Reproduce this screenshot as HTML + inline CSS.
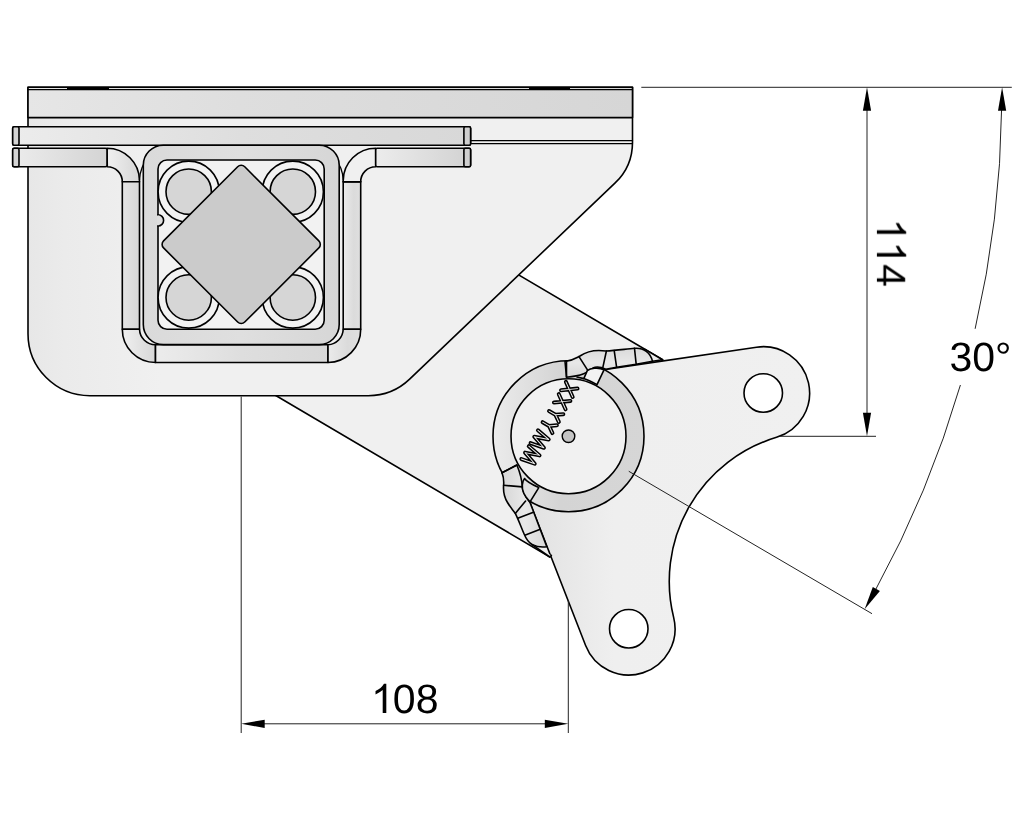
<!DOCTYPE html>
<html><head><meta charset="utf-8"><title>Drawing</title>
<style>html,body{margin:0;padding:0;background:#fff;}svg{display:block}text{-webkit-font-smoothing:antialiased;text-rendering:geometricPrecision}</style></head>
<body><svg width="1024" height="820" viewBox="0 0 1024 820" font-family="Liberation Sans, sans-serif">
<rect width="1024" height="820" fill="#fff"/>
<defs>
<linearGradient id="gBand" x1="0" x2="1" y1="0" y2="0"><stop offset="0" stop-color="#e6e6e6"/><stop offset=".35" stop-color="#dedede"/><stop offset="1" stop-color="#d6d6d6"/></linearGradient>
<linearGradient id="gPlate" x1="0" x2="1" y1="0" y2="0"><stop offset="0" stop-color="#e7e7e7"/><stop offset=".06" stop-color="#ebebeb"/><stop offset=".22" stop-color="#f0f0f0"/><stop offset="1" stop-color="#f0f0f0"/></linearGradient>
<linearGradient id="gBar" x1="0" x2="1" y1="0" y2="0"><stop offset="0" stop-color="#ececec"/><stop offset=".5" stop-color="#dedede"/><stop offset="1" stop-color="#d8d8d8"/></linearGradient>
<linearGradient id="gBarL" x1="0" x2="1" y1="0" y2="0"><stop offset="0" stop-color="#ececec"/><stop offset="1" stop-color="#d4d4d4"/></linearGradient>
<linearGradient id="gBarR" x1="0" x2="1" y1="0" y2="0"><stop offset="0" stop-color="#ececec"/><stop offset="1" stop-color="#d2d2d2"/></linearGradient>
<linearGradient id="gLeg" x1="0" x2="1" y1="0" y2="0"><stop offset="0" stop-color="#f0f0f0"/><stop offset="1" stop-color="#d6d6d6"/></linearGradient>
<linearGradient id="gLegR" x1="0" x2="1" y1="0" y2="0"><stop offset="0" stop-color="#ebebeb"/><stop offset=".6" stop-color="#dbdbdb"/><stop offset="1" stop-color="#dfdfdf"/></linearGradient>
<linearGradient id="gTube" x1="0" x2="1" y1="0" y2="0"><stop offset="0" stop-color="#dadada"/><stop offset=".5" stop-color="#dfdfdf"/><stop offset="1" stop-color="#d6d6d6"/></linearGradient>
<linearGradient id="gRing" x1="0" x2="1" y1="0" y2="0"><stop offset="0" stop-color="#ececec"/><stop offset=".45" stop-color="#d4d4d4"/><stop offset="1" stop-color="#d6d6d6"/></linearGradient>
<linearGradient id="gBrk" x1="0" x2="1" y1="0" y2="0"><stop offset="0" stop-color="#e2e2e2"/><stop offset=".3" stop-color="#efefef"/><stop offset="1" stop-color="#f0f0f0"/></linearGradient>
<linearGradient id="gWeld" x1="0" x2="1" y1="0" y2="0"><stop offset="0" stop-color="#d6d6d6"/><stop offset=".5" stop-color="#e8e8e8"/><stop offset="1" stop-color="#d8d8d8"/></linearGradient>
<linearGradient id="gWeld2" x1="0" x2="0" y1="0" y2="1"><stop offset="0" stop-color="#dadada"/><stop offset=".5" stop-color="#e8e8e8"/><stop offset="1" stop-color="#d8d8d8"/></linearGradient>
</defs>
<g fill="none" stroke="#000" stroke-width="1.6" stroke-linejoin="round" stroke-linecap="round">
<path d="M438.68 227.74 L662.7 359.7 L549.9 557 L265.56 389.51 Z" fill="#f0f0f0"/>
<path d="M28 87.3 L632.5 87.3 L632.5 142.39 A56 56 0 0 1 615.17 182.9 L409.64 379.1 A60 60 0 0 1 368.21 395.7 L90 395.7 A62 62 0 0 1 28 333.7 Z" fill="url(#gPlate)"/>
<rect x="28.0" y="87.3" width="604.5" height="30.299999999999997" fill="url(#gBand)"/>
<path d="M28.0 89.6 H632.5" stroke-width="1.2"/>
<path d="M67 88.4 H109 M529 88.4 H570" stroke-width="3" stroke-linecap="butt"/>
<path d="M470.5 140.7 H632.5 M470.5 143.6 H632.5" stroke-width="1.3"/>
<path d="M107 148.2 A32.5 32.5 0 0 1 139.5 180.7 L139.5 329.3 L122.3 329.3 L122.3 181.7 A15 15 0 0 0 107.3 166.7 Z" fill="url(#gLeg)"/>
<path d="M122.3 181.7 H139.5"/>
<path d="M122.3 329.3 H139.5 A16 16 0 0 0 155.5 344.8 L155.5 362.5 A33.2 33.2 0 0 1 122.3 329.3 Z" fill="url(#gLeg)"/>
<rect x="155.5" y="344.8" width="172.5" height="17.7" fill="url(#gBar)"/>
<path d="M343.2 181.7 L343.2 329.3 L360.7 329.3 L360.7 181.7 Z" fill="url(#gLegR)"/>
<path d="M375.7 148.2 A32.5 32.5 0 0 0 343.2 180.7 L343.2 181.7 L360.7 181.7 A15 15 0 0 1 375.7 166.7 Z" fill="#f0f0f0"/>
<path d="M343.2 181.7 H360.7"/>
<path d="M360.7 329.3 H343.2 A16 16 0 0 1 328 344.8 L328 362.5 A33 33 0 0 0 360.7 329.3 Z" fill="url(#gLegR)"/>
<rect x="12.7" y="126.8" width="457.90000000000003" height="18.4" rx="1.5" fill="url(#gBar)"/>
<rect x="12.7" y="126.8" width="6.3" height="18.4" rx="1.5" fill="#d4d4d4"/>
<rect x="463.9" y="126.8" width="6.7" height="18.4" rx="1.5" fill="#cfcfcf"/>
<rect x="12.7" y="148.2" width="94.3" height="18.5" rx="1.5" fill="url(#gBarL)"/>
<rect x="12.7" y="148.2" width="6.3" height="18.5" rx="1.5" fill="#d4d4d4"/>
<rect x="375.7" y="148.2" width="94.90000000000003" height="18.5" rx="1.5" fill="url(#gBarR)"/>
<rect x="463.9" y="148.2" width="6.7" height="18.5" rx="1.5" fill="#cfcfcf"/>
<path d="M139.5 180 A36 36 0 0 1 170 145.6 M343.2 180 A36 36 0 0 0 312 145.6" stroke-width="1.3"/>
<rect x="143.3" y="145.2" width="195.89999999999998" height="199.40000000000003" rx="20" fill="url(#gTube)"/>
<rect x="158" y="160" width="166.2" height="169.3" rx="9" fill="#f2f2f2"/>
<circle cx="188.7" cy="191.7" r="30.6" fill="#f2f2f2"/>
<circle cx="188.7" cy="191.7" r="22.7" fill="#d6d6d6"/>
<circle cx="292.8" cy="191.7" r="30.6" fill="#f2f2f2"/>
<circle cx="292.8" cy="191.7" r="22.7" fill="#d6d6d6"/>
<circle cx="188.7" cy="297.5" r="30.6" fill="#f2f2f2"/>
<circle cx="188.7" cy="297.5" r="22.7" fill="#d6d6d6"/>
<circle cx="292.8" cy="297.5" r="30.6" fill="#f2f2f2"/>
<circle cx="292.8" cy="297.5" r="22.7" fill="#d6d6d6"/>
<path d="M158 214.8 A5.6 5.6 0 0 1 158 226" fill="#dedede"/>
<path d="M157.8 215.6 V225.2" stroke="#dedede" stroke-width="1.8" stroke-linecap="butt"/>
<rect x="183.79999999999998" y="187.0" width="114.8" height="114.8" rx="5" transform="rotate(45 241.2 244.4)" fill="#cbcbcb"/>
<path d="M529.8 502.3 L585.61 645.56 A46.3 46.3 0 0 0 673.69 617.61 A150.3 150.3 0 0 1 776.56 437.35 A46.3 46.3 0 0 0 756.51 347.19 L605.6 369.4 L568.5 436.25 Z" fill="url(#gBrk)"/>
<circle cx="763.25" cy="393.0" r="19.25" fill="#fff"/>
<circle cx="628.75" cy="628.75" r="19.25" fill="#fff"/>
<circle cx="568.5" cy="436.25" r="75.5" fill="url(#gRing)"/>
<circle cx="568.5" cy="436.25" r="57.5" fill="#f1f1f1"/>
<circle cx="568.5" cy="436.25" r="6.3" fill="#c4c4c4" stroke-width="1.4"/>
<path d="M652.5 361.3 L662.5 359.8 L645 349.4" fill="#ededed"/>
<path d="M565 361.5 C573 360.5 576 358 580 356 C588 350.5 596 349.5 606 351 C616 350.5 626 349 634.5 348.3 C644 347.5 650.5 353 652.5 361.3 L636 364.3 L616.5 367.3 L605.8 369.3 C600 366.5 596 366.5 593 368 C588 372.5 582 376 566.5 377.2 Z" fill="url(#gWeld2)"/>
<path d="M566.5 360.8 V377.2 M579 356.6 L587.3 369.6 M606.4 351 L602.6 368.6 M614.2 350.6 L616.6 367.2 M634.5 348.4 L636.2 364.3"/>
<path d="M587.3 370.6 C590 368.5 598 366.8 604 369.8 L597 384.6 C592 382 588 380 583.8 378.6 Z" fill="#f3f3f3"/>
<path d="M577 377 L583.8 378.6"/>
<path d="M502 472.8 C504 478 504 481 503.6 485.3 C503 493 505 498.5 507.5 502.5 C510 507 513 510 515.3 513.4 C519 521 521 527 524 533.8 C526.5 540 529 543 532.5 544.8 C537 547 542 547.4 546.8 546.8 L530 502.4 C526 497.5 522.5 492 522.3 486.9 C522 481 521 475 516.9 465 Z" fill="url(#gWeld)"/>
<path d="M502 472.8 L516.9 465 M503.6 485.3 L522.3 486.9 M515.3 513.4 L525.6 501 M518.4 518.1 L533.4 512.2 M525.5 535 L539.6 529.4"/>
<path d="M523 481.4 C521.5 486 522.5 492 526 497 C527.5 499 529 501 530 501.8 L538.8 487.6 C533 485 527 482 524.5 478.5 Z" fill="#e0e0e0"/>
<path d="M532.5 544.8 L549.8 557 L551.4 555.4" fill="#ededed"/>
</g>
<g transform="translate(565.9 381.9) rotate(120)" fill="none" stroke-linecap="round" stroke-linejoin="round"><g stroke="#000" stroke-width="4.0"><path transform="translate(0 0)" d="M0 0 L9.7 -13.4 M0 -13.4 L9.7 0"/><path transform="translate(14.2 0)" d="M0 0 L9.7 -13.4 M0 -13.4 L9.7 0"/><path transform="translate(29.2 0)" d="M0 -13.9 L4.5 -7.4 L9 -13.9 M4.5 -7.4 L4.5 0"/><path transform="translate(42.05 0)" d="M0 -13.9 L4.5 -7.4 L9 -13.9 M4.5 -7.4 L4.5 0"/><path transform="translate(55.85 0)" d="M0 0 L2.6 -13.9 L7.4 0 L12.2 -13.9 L14.8 0"/><path transform="translate(74.25 0)" d="M0 0 L2.6 -13.9 L7.4 0 L12.2 -13.9 L14.8 0"/></g><g stroke="#f1f1f1" stroke-width="0.95"><path transform="translate(0 0)" d="M0 0 L9.7 -13.4 M0 -13.4 L9.7 0"/><path transform="translate(14.2 0)" d="M0 0 L9.7 -13.4 M0 -13.4 L9.7 0"/><path transform="translate(29.2 0)" d="M0 -13.9 L4.5 -7.4 L9 -13.9 M4.5 -7.4 L4.5 0"/><path transform="translate(42.05 0)" d="M0 -13.9 L4.5 -7.4 L9 -13.9 M4.5 -7.4 L4.5 0"/><path transform="translate(55.85 0)" d="M0 0 L2.6 -13.9 L7.4 0 L12.2 -13.9 L14.8 0"/><path transform="translate(74.25 0)" d="M0 0 L2.6 -13.9 L7.4 0 L12.2 -13.9 L14.8 0"/></g></g>
<g stroke="#222" stroke-width="1" fill="none">
<path d="M641.3 87.3 H1011.8"/>
<path d="M867 108 V415"/>
<path d="M780 436.3 H876"/>
<path d="M241.2 396.5 V733 M568.3 600 V733 M262 723.8 H548"/>
<path d="M628.75 471.25 L872 613.70"/>
<path d="M1001.64 108.00 A1026.5 1026.5 0 0 1 975.14 328.80 M960.41 385.00 A1026.5 1026.5 0 0 1 875.15 590.56"/>
</g>
<g fill="#000" stroke="none">
<path d="M867.00 87.30 L871.10 110.80 L862.90 110.80 Z"/>
<path d="M867.00 436.30 L862.90 412.80 L871.10 412.80 Z"/>
<path d="M241.20 723.80 L264.70 719.70 L264.70 727.90 Z"/>
<path d="M568.30 723.80 L544.80 727.90 L544.80 719.70 Z"/>
<path d="M1002.10 87.30 L1006.20 110.80 L998.00 110.80 Z"/>
<path d="M864.61 609.29 L872.79 586.89 L879.90 590.98 Z"/>
</g>
<g font-family="Liberation Sans, sans-serif" font-size="41" fill="#000" opacity="0.999">
<path transform="translate(371.06 713.1)" d="M15.25 0 V-29.36 H12.9 Q10.2 -24.6 4.47 -22.1 V-18.65 Q8.6 -20.3 11.64 -23 V0 Z"/>
<text x="392.85" y="713.1">08</text>
<text x="949.5" y="371.3">30°</text>
<g transform="translate(876.9 218.6) rotate(90)"><path d="M15.25 0 V-29.36 H12.9 Q10.2 -24.6 4.47 -22.1 V-18.65 Q8.6 -20.3 11.64 -23 V0 Z"/><path transform="translate(22.8 0)" d="M15.25 0 V-29.36 H12.9 Q10.2 -24.6 4.47 -22.1 V-18.65 Q8.6 -20.3 11.64 -23 V0 Z"/><text x="45.6" y="0">4</text></g>
</g>
</svg></body></html>
